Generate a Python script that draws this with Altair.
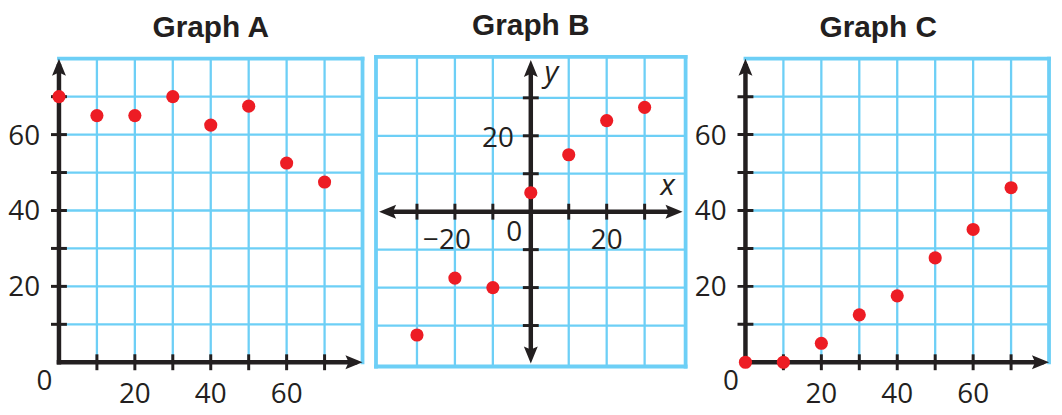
import altair as alt
import pandas as pd

# ---------------- data ----------------
A_X = [0, 10, 20, 30, 40, 50, 60, 70]
A_Y = [70, 65, 65, 70, 62.5, 67.5, 52.5, 47.5]

B_X = [-30, -20, -10, 0, 10, 20, 30]
B_Y = [-32.5, -17.5, -20, 5, 15, 24, 27.5]

C_X = [0, 10, 20, 30, 40, 50, 60, 70]
C_Y = [0, 0, 5, 12.5, 17.5, 27.5, 35, 46]

TITLES = ["Graph A", "Graph B", "Graph C"]

GRID_Q = [10, 20, 30, 40, 50, 60, 70]        # first-quadrant grid / ticks
GRID_B = [-30, -20, -10, 10, 20, 30]         # four-quadrant grid / ticks
LABELS_Q = [20, 40, 60]
LABELS_BY = [20]
LABELS_BX_NEG = [-20]
LABELS_BX_POS = [20]

# ---------------- styles ----------------
GRID_COLOR = "#6dcff6"
AXIS_COLOR = "#231f20"
POINT_COLOR = "#ed1c24"
FONT = "Open Sans"
TITLE_FONT = "Liberation Sans"
ARROW = "M0,0 L0.875,2.15 L0,1.75 L-0.875,2.15 Z"  # tip at origin, pointing up


def panel(kind, title, title_x, px, py, xdom, ydom, w, h):
    xs = alt.Scale(domain=xdom, nice=False, zero=False)
    ys = alt.Scale(domain=ydom, nice=False, zero=False)

    def X(f="x"):
        return alt.X(f"{f}:Q", scale=xs, axis=None)

    def Y(f="y"):
        return alt.Y(f"{f}:Q", scale=ys, axis=None)

    if kind == "quad":
        lo, hi, end, grid, tip = 0, 80, 78, GRID_Q, 80
        frame = pd.DataFrame({"x": [lo, hi], "y": [hi, lo], "x2": [hi, hi], "y2": [hi, hi]})
        axes = pd.DataFrame({"x": [0, 0], "y": [0, 0], "x2": [end, 0], "y2": [0, end]})
        arrows = pd.DataFrame({"x": [0, tip], "y": [tip, 0], "ang": [0, 90]})
        cap = "square"
    else:
        lo, hi, end, grid, tip = -40.8, 40.8, 38, GRID_B, 40
        frame = pd.DataFrame({"x": [lo, lo, lo, hi], "y": [lo, hi, lo, lo],
                              "x2": [hi, hi, lo, hi], "y2": [lo, hi, hi, hi]})
        axes = pd.DataFrame({"x": [-end, 0], "y": [0, -end], "x2": [end, 0], "y2": [0, end]})
        arrows = pd.DataFrame({"x": [0, tip, 0, -tip], "y": [tip, 0, -tip, 0],
                               "ang": [0, 90, 180, 270]})
        cap = "butt"

    gv = pd.DataFrame({"x": grid, "y": [lo] * len(grid), "y2": [hi] * len(grid)})
    gh = pd.DataFrame({"y": grid, "x": [lo] * len(grid), "x2": [hi] * len(grid)})

    layers = [
        alt.Chart(gv).mark_rule(color=GRID_COLOR, strokeWidth=2.3).encode(x=X(), y=Y(), y2="y2:Q"),
        alt.Chart(gh).mark_rule(color=GRID_COLOR, strokeWidth=2.3).encode(x=X(), x2="x2:Q", y=Y()),
        alt.Chart(frame).mark_rule(color=GRID_COLOR, strokeWidth=3.8, strokeCap="square").encode(
            x=X(), x2="x2:Q", y=Y(), y2="y2:Q"),
        alt.Chart(axes).mark_rule(color=AXIS_COLOR, strokeWidth=4.5, strokeCap=cap).encode(
            x=X(), x2="x2:Q", y=Y(), y2="y2:Q"),
        alt.Chart(pd.DataFrame({"x": [0] * len(grid), "y": grid})).mark_tick(
            orient="horizontal", thickness=3, color=AXIS_COLOR, opacity=1).encode(
            x=X(), y=Y(), size=alt.value(16)),
        alt.Chart(pd.DataFrame({"x": grid, "y": [0] * len(grid)})).mark_tick(
            orient="vertical", thickness=3, color=AXIS_COLOR, opacity=1).encode(
            x=X(), y=Y(), size=alt.value(16)),
        alt.Chart(arrows).mark_point(shape=ARROW, filled=True, color=AXIS_COLOR, opacity=1,
                                     size=256, strokeWidth=0).encode(
            x=X(), y=Y(), angle=alt.Angle("ang:Q", scale=None)),
        alt.Chart(pd.DataFrame({"x": px, "y": py})).mark_circle(
            color=POINT_COLOR, opacity=1, size=175).encode(x=X(), y=Y()),
    ]

    def txt(df, **kw):
        base = dict(font=FONT, fontSize=28, color=AXIS_COLOR, baseline="alphabetic")
        base.update(kw)
        return alt.Chart(df).mark_text(**base).encode(x=X(), y=Y(), text="t:N")

    if kind == "quad":
        layers += [
            txt(pd.DataFrame({"x": [0] * 3, "y": LABELS_Q, "t": [str(v) for v in LABELS_Q]}),
                align="right", dx=-19, dy=10),
            txt(pd.DataFrame({"x": LABELS_Q, "y": [0] * 3, "t": [str(v) for v in LABELS_Q]}),
                align="center", dy=41.5),
            txt(pd.DataFrame({"x": [0], "y": [0], "t": ["0"]}), align="center", dx=-14.6, dy=28.4),
        ]
        ttop = 80
    else:
        layers += [
            txt(pd.DataFrame({"x": [0], "y": LABELS_BY, "t": [str(v) for v in LABELS_BY]}),
                align="right", dx=-17, dy=11),
            txt(pd.DataFrame({"x": LABELS_BX_NEG, "y": [0],
                              "t": ["\u2212" + str(-v) for v in LABELS_BX_NEG]}),
                align="right", dx=16, dy=38),
            txt(pd.DataFrame({"x": LABELS_BX_POS, "y": [0], "t": [str(v) for v in LABELS_BX_POS]}),
                align="center", dy=38),
            txt(pd.DataFrame({"x": [0], "y": [0], "t": ["0"]}), align="center", dx=-16.6, dy=30),
            txt(pd.DataFrame({"x": [tip], "y": [0], "t": ["x"]}), align="center",
                fontStyle="italic", fontSize=30, dx=-15, dy=-16.5),
            txt(pd.DataFrame({"x": [0], "y": [tip], "t": ["y"]}), align="center",
                fontStyle="italic", fontSize=30, dx=20.7, dy=22),
        ]
        ttop = hi
    layers.append(
        txt(pd.DataFrame({"x": [title_x], "y": [ttop], "t": [title]}), align="center",
            font=TITLE_FONT, fontSize=30, fontWeight="bold", dy=-21.5)
    )
    return alt.layer(*layers).properties(width=w, height=h)


H = 397
pa = panel("quad", TITLES[0], 40, A_X, A_Y, [-13.17, 81.86], [-10.92, 93.01], 363, H)
pb = panel("four", TITLES[1], 0, B_X, B_Y, [-42.49, 41.81], [-50.60, 53.32], 322, H)
pc = panel("quad", TITLES[2], 35, C_X, C_Y, [-14.76, 81.31], [-10.92, 93.01], 367, H)

chart = alt.hconcat(pa, pb, pc, spacing=0, bounds="flush").properties(
    padding=0, background="white"
).configure_view(stroke=None)

chart.save("out.html", embed_options={"renderer": "svg", "actions": False})
